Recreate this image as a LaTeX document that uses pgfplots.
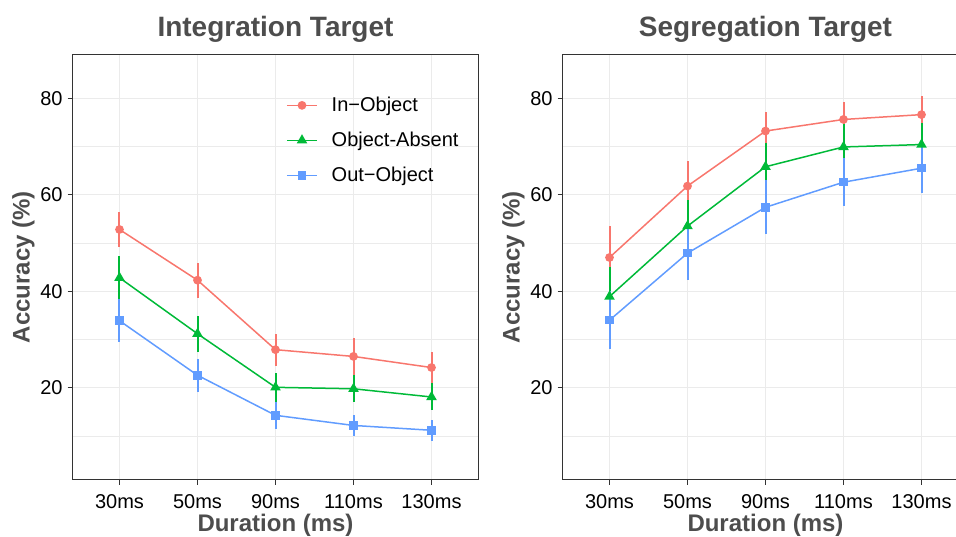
\documentclass[border=0pt]{standalone}
\usepackage{pgfplots}
\pgfplotsset{compat=1.18}
\usepackage{fontspec}
\setmainfont{Liberation Sans}
\definecolor{cred}{HTML}{F8766D}
\definecolor{cgreen}{HTML}{00BA38}
\definecolor{cblue}{HTML}{619CFF}
\definecolor{tgray}{HTML}{4D4D4D}
\definecolor{gridc}{HTML}{EBEBEB}
\definecolor{axc}{HTML}{333333}

\pgfplotsset{
 panel/.style={
  scale only axis, width=405.6pt, height=425.7pt,
  xmin=-0.6, xmax=4.6, ymin=0.9, ymax=89.1,
  xtick={0,1,2,3,4}, xticklabels={30ms,50ms,90ms,110ms,130ms},
  ytick={20,40,60,80}, minor ytick={10,30,50,70},
  grid=both,
  major grid style={gridc, line width=1.3pt},
  minor grid style={gridc, line width=0.7pt},
  axis line style={axc, line width=1pt},
  major tick style={axc, line width=1pt}, major tick length=5pt, minor tick length=0pt,
  tick align=outside, xtick pos=bottom, ytick pos=left,
  tick label style={font=\fontsize{20}{24}\selectfont, black},
  /pgf/number format/assume math mode=true,
  xticklabel style={anchor=base, inner sep=0pt, yshift=-24pt},
  yticklabel style={anchor=east, inner sep=0pt, xshift=-5pt},
  title style={at={(axis description cs:0.5,1.028)}, anchor=base, font=\fontsize{28}{34}\selectfont\bfseries, text=tgray},
  xlabel style={at={(axis description cs:0.5,-0.122)}, anchor=base, font=\fontsize{24}{29}\selectfont\bfseries, text=tgray},
  ylabel style={at={(axis description cs:-0.106,0.5)}, anchor=base, font=\fontsize{24}{29}\selectfont\bfseries, text=tgray},
  xlabel={Duration (ms)}, ylabel={Accuracy (\%)},
  error bars/y dir=both, error bars/y explicit, error bars/error mark=none,
  error bars/error bar style={line width=2pt},
 },
 sred/.style={color=cred, line width=1.5pt, mark=*, mark size=3.6pt, mark options={solid}},
 sgreen/.style={color=cgreen, line width=1.5pt, mark=triangle*, mark size=4.6pt, mark options={solid}},
 sblue/.style={color=cblue, line width=1.5pt, mark=square*, mark size=3.5pt, mark options={solid}},
}

\begin{document}
\begin{tikzpicture}
\path[use as bounding box] (0,0) rectangle (956pt,537pt);
\clip (0,0) rectangle (956pt,537pt);

\begin{axis}[panel, at={(72.7pt,57pt)}, anchor=south west,
  title={Integration Target},
  legend style={draw=none, fill=none, at={(axis description cs:0.526,0.904)}, anchor=north west,
    font=\fontsize{20}{24}\selectfont, row sep=15pt, inner sep=0pt,
    /tikz/every odd column/.append style={column sep=12pt}},
  legend cell align=left,
  legend image code/.code={\draw[mark repeat=2,mark phase=2,#1] plot coordinates {(0pt,0pt) (15pt,0pt) (30pt,0pt)};},
]
\addplot+[sred] coordinates {
 (0,52.8) +- (0,3.6)
 (1,42.3) +- (0,3.6)
 (2,27.9) +- (0,3.3)
 (3,26.5) +- (0,3.8)
 (4,24.2) +- (0,3.2)
};
\addlegendentry{In−Object}
\addplot+[sgreen] coordinates {
 (0,42.8) +- (0,4.6)
 (1,31.2) +- (0,3.7)
 (2,20.1) +- (0,3.0)
 (3,19.8) +- (0,2.8)
 (4,18.1) +- (0,2.8)
};
\addlegendentry{Object-Absent}
\addplot+[sblue] coordinates {
 (0,33.9) +- (0,4.5)
 (1,22.6) +- (0,3.4)
 (2,14.3) +- (0,2.8)
 (3,12.2) +- (0,2.2)
 (4,11.2) +- (0,2.2)
};
\addlegendentry{Out−Object}
\end{axis}

\begin{axis}[panel, at={(562.7pt,57pt)}, anchor=south west,
  title={Segregation Target}]
\addplot+[sred] coordinates {
 (0,47.0) +- (0,6.6)
 (1,61.8) +- (0,5.1)
 (2,73.2) +- (0,3.9)
 (3,75.6) +- (0,3.6)
 (4,76.6) +- (0,3.8)
};
\addplot+[sgreen] coordinates {
 (0,38.9) +- (0,6.2)
 (1,53.5) +- (0,5.4)
 (2,65.8) +- (0,5.0)
 (3,69.9) +- (0,4.8)
 (4,70.4) +- (0,4.5)
};
\addplot+[sblue] coordinates {
 (0,34.0) +- (0,6.0)
 (1,47.9) +- (0,5.6)
 (2,57.4) +- (0,5.6)
 (3,62.6) +- (0,5.0)
 (4,65.5) +- (0,5.1)
};
\end{axis}
\end{tikzpicture}
\end{document}
